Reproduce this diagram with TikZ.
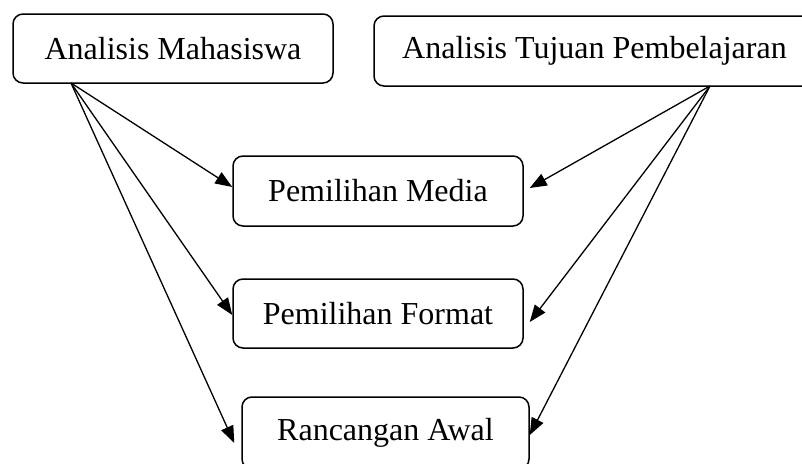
\documentclass[tikz,border=0pt]{standalone}
\usepackage{fontspec}
\setmainfont{Liberation Serif}
\usetikzlibrary{arrows.meta}
\begin{document}
\begin{tikzpicture}[x=1pt,y=-1pt,
  box/.style={draw,line width=1.5pt,rounded corners=10pt,inner sep=0pt,
    font=\fontsize{32}{38}\selectfont},
  link/.style={line width=1.3pt,-{Triangle[length=17pt,width=13pt]}}]
\useasboundingbox (0,0) rectangle (802,463);
\begin{scope}
\clip (0,0) rectangle (802,463);
\node[box,minimum width=320pt,minimum height=69pt] (mhs) at (173,48.5) {Analisis Mahasiswa};
\node[box,minimum width=441pt,minimum height=70pt] (tuj) at (594.5,51) {Analisis Tujuan Pembelajaran};
\node[box,minimum width=290pt,minimum height=70pt] (media) at (378,191) {Pemilihan Media};
\node[box,minimum width=290pt,minimum height=69pt] (format) at (378,313.5) {Pemilihan Format};
\node[box,minimum width=287pt,minimum height=72pt] (awal) at (385.5,433) {Rancangan Awal};
\end{scope}
\coordinate (s1) at (71,83);
\coordinate (s2) at (710,86);
\draw[link] (s1) -- ([yshift=4pt]media.west);
\draw[link] (s1) -- ([yshift=-1.5pt]format.west);
\draw[link] (s1) -- ([xshift=-7pt,yshift=-10pt]awal.west);
\draw[link] (s2) -- ([xshift=6pt,yshift=3pt]media.east);
\draw[link] (s2) -- ([xshift=6pt,yshift=-8.5pt]format.east);
\draw[link] (s2) -- ([xshift=0pt,yshift=-2pt]awal.east);
\end{tikzpicture}
\end{document}
